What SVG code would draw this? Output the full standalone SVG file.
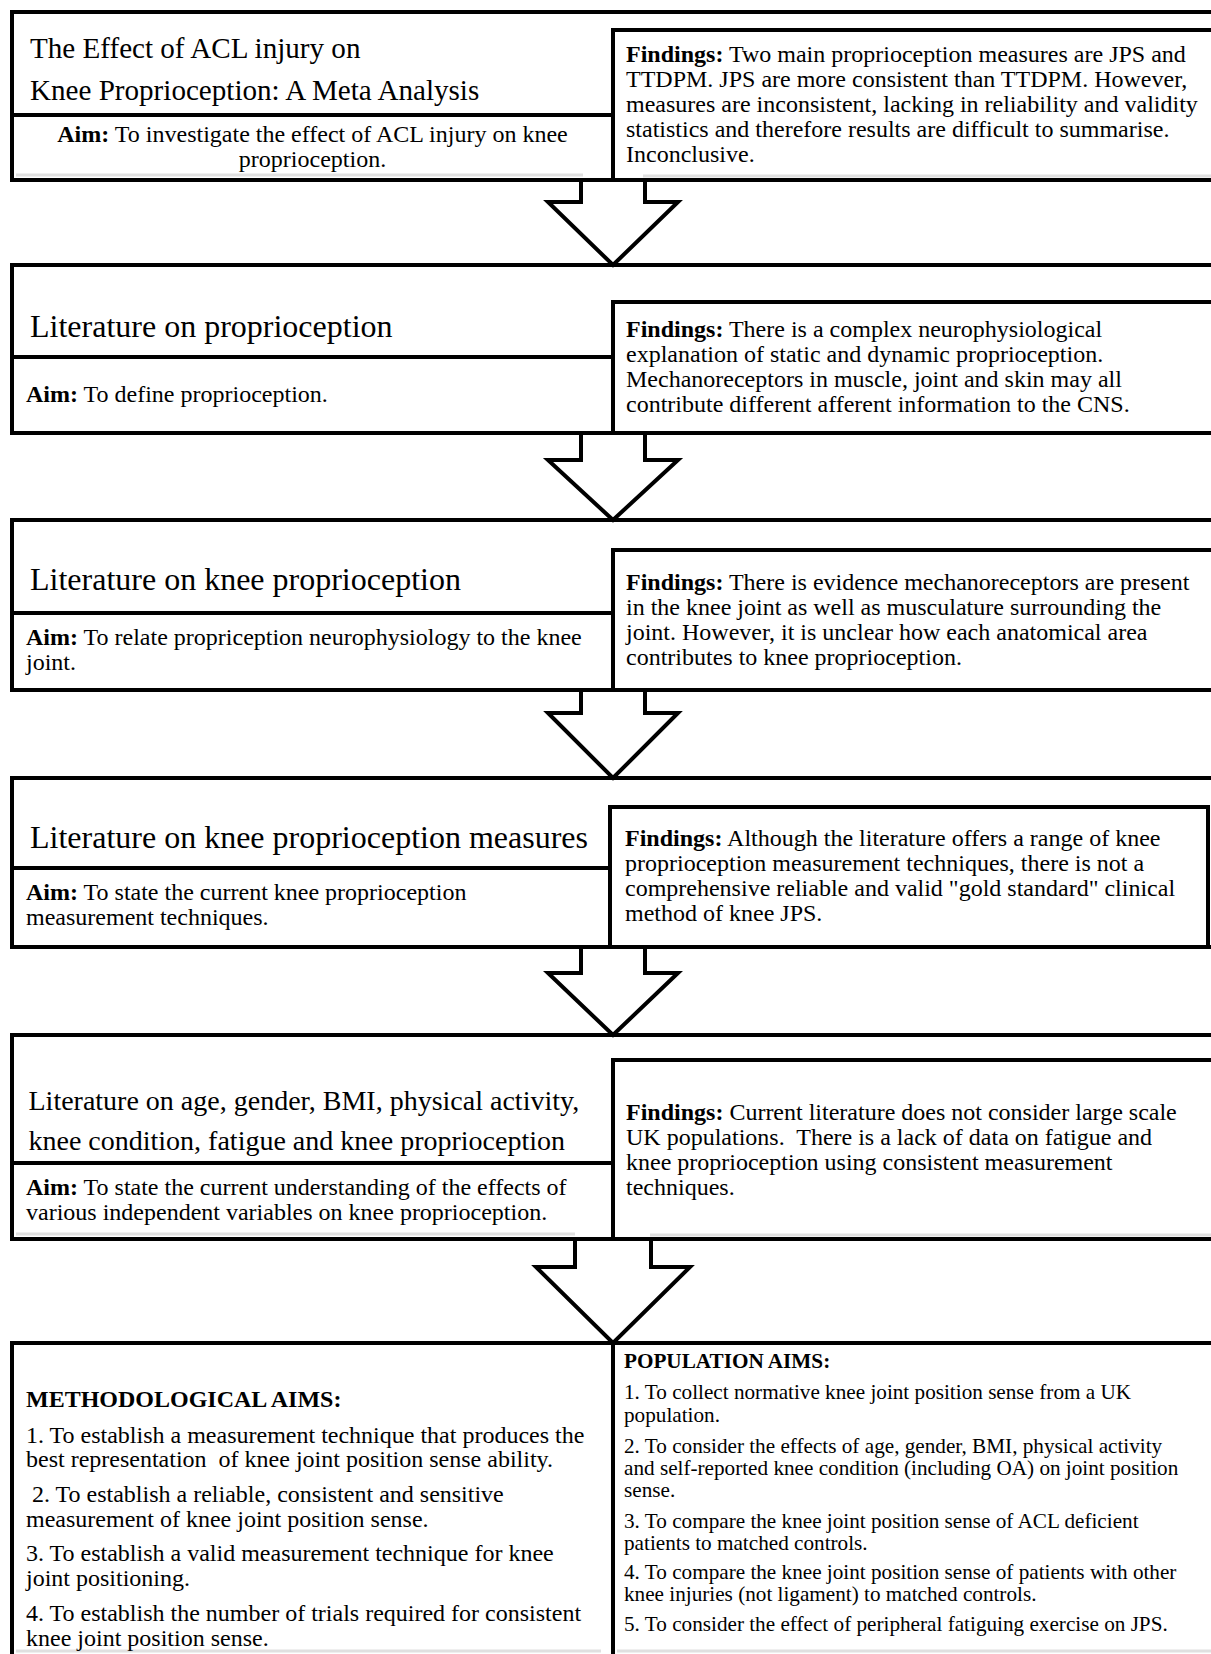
<svg xmlns="http://www.w3.org/2000/svg" width="1211" height="1654" viewBox="0 0 1211 1654">
<style>
.bx{fill:#fff;stroke:#000;stroke-width:4}
.ln{stroke:#000;stroke-width:4;fill:none}
.sh{stroke:#e0e0e0;stroke-width:3;fill:none}
.ar{fill:#fff;stroke:#000;stroke-width:4;stroke-linejoin:miter}
text{font-family:"Liberation Serif","Times New Roman",serif;fill:#000}
.t1{font-size:29.1px}
.t2{font-size:32px}
.t5{font-size:28px}
.bd{font-size:24px}
.pp{font-size:21.2px}
.b{font-weight:bold}
</style>
<rect x="0" y="0" width="1211" height="1654" fill="#fff"/>

<g id="stage1">
<rect class="bx" x="12" y="12" width="1208" height="168"/>
<line class="ln" x1="12" y1="115" x2="613" y2="115"/>
<line class="sh" x1="16" y1="175" x2="583" y2="175"/>
<text class="t1"><tspan x="30" y="58">The Effect of ACL injury on</tspan><tspan x="30" y="100">Knee Proprioception: A Meta Analysis</tspan></text>
<text class="bd" text-anchor="middle"><tspan x="312.5" y="142"><tspan class="b">Aim:</tspan> To investigate the effect of ACL injury on knee</tspan><tspan x="312.5" y="167">proprioception.</tspan></text>
</g>
<g id="stage1-findings">
<rect class="bx" x="613" y="30" width="607" height="150"/>
<line class="sh" x1="643" y1="176" x2="1211" y2="176"/>
<text class="bd"><tspan x="626" y="62"><tspan class="b">Findings:</tspan> Two main proprioception measures are JPS and</tspan><tspan x="626" y="87">TTDPM. JPS are more consistent than TTDPM. However,</tspan><tspan x="626" y="112">measures are inconsistent, lacking in reliability and validity</tspan><tspan x="626" y="137">statistics and therefore results are difficult to summarise.</tspan><tspan x="626" y="162">Inconclusive.</tspan></text>
</g>

<g id="stage2">
<rect class="bx" x="12" y="265" width="1208" height="168"/>
<line class="ln" x1="12" y1="357" x2="613" y2="357"/>
<text class="t2"><tspan x="30" y="337">Literature on proprioception</tspan></text>
<text class="bd"><tspan x="26" y="402"><tspan class="b">Aim:</tspan> To define proprioception.</tspan></text>
</g>
<g id="stage2-findings">
<rect class="bx" x="613" y="302" width="607" height="131"/>
<text class="bd"><tspan x="626" y="337"><tspan class="b">Findings:</tspan> There is a complex neurophysiological</tspan><tspan x="626" y="362">explanation of static and dynamic proprioception.</tspan><tspan x="626" y="387">Mechanoreceptors in muscle, joint and skin may all</tspan><tspan x="626" y="412">contribute different afferent information to the CNS.</tspan></text>
</g>

<g id="stage3">
<rect class="bx" x="12" y="520" width="1208" height="170"/>
<line class="ln" x1="12" y1="613" x2="613" y2="613"/>
<text class="t2"><tspan x="30" y="590">Literature on knee proprioception</tspan></text>
<text class="bd"><tspan x="26" y="645"><tspan class="b">Aim:</tspan> To relate propriception neurophysiology to the knee</tspan><tspan x="26" y="670">joint.</tspan></text>
</g>
<g id="stage3-findings">
<rect class="bx" x="613" y="550" width="607" height="140"/>
<text class="bd"><tspan x="626" y="590"><tspan class="b">Findings:</tspan> There is evidence mechanoreceptors are present</tspan><tspan x="626" y="615">in the knee joint as well as musculature surrounding the</tspan><tspan x="626" y="640">joint. However, it is unclear how each anatomical area</tspan><tspan x="626" y="665">contributes to knee proprioception.</tspan></text>
</g>

<g id="stage4">
<rect class="bx" x="12" y="778" width="1208" height="169"/>
<line class="ln" x1="12" y1="868" x2="610" y2="868"/>
<text class="t2"><tspan x="30" y="848">Literature on knee proprioception measures</tspan></text>
<text class="bd"><tspan x="26" y="900"><tspan class="b">Aim:</tspan> To state the current knee proprioception</tspan><tspan x="26" y="925">measurement techniques.</tspan></text>
</g>
<g id="stage4-findings">
<rect class="bx" x="610" y="807" width="598" height="140"/>
<text class="bd"><tspan x="625" y="846"><tspan class="b">Findings:</tspan> Although the literature offers a range of knee</tspan><tspan x="625" y="871">proprioception measurement techniques, there is not a</tspan><tspan x="625" y="896">comprehensive reliable and valid "gold standard" clinical</tspan><tspan x="625" y="921">method of knee JPS.</tspan></text>
</g>

<g id="stage5">
<rect class="bx" x="12" y="1035" width="1208" height="204"/>
<line class="ln" x1="12" y1="1163" x2="613" y2="1163"/>
<line class="sh" x1="16" y1="1234" x2="575" y2="1234"/>
<text class="t5"><tspan x="28.5" y="1110">Literature on age, gender, BMI, physical activity,</tspan><tspan x="28.5" y="1150">knee condition, fatigue and knee proprioception</tspan></text>
<text class="bd"><tspan x="26" y="1195"><tspan class="b">Aim:</tspan> To state the current understanding of the effects of</tspan><tspan x="26" y="1220">various independent variables on knee proprioception.</tspan></text>
</g>
<g id="stage5-findings">
<rect class="bx" x="613" y="1060" width="607" height="179"/>
<line class="sh" x1="650" y1="1235" x2="1211" y2="1235"/>
<text class="bd"><tspan x="626" y="1120"><tspan class="b">Findings:</tspan> Current literature does not consider large scale</tspan><tspan x="626" y="1145">UK populations.&#160; There is a lack of data on fatigue and</tspan><tspan x="626" y="1170">knee proprioception using consistent measurement</tspan><tspan x="626" y="1195">techniques.</tspan></text>
</g>

<g id="methodological-aims">
<rect class="bx" x="12" y="1343" width="601" height="330"/>
<line class="sh" x1="16" y1="1651" x2="601" y2="1651"/>
<text class="bd"><tspan class="b" x="26" y="1407">METHODOLOGICAL AIMS:</tspan><tspan x="26" y="1443">1. To establish a measurement technique that produces the</tspan><tspan x="26" y="1467">best representation&#160; of knee joint position sense ability.</tspan><tspan x="26" y="1502">&#160;2. To establish a reliable, consistent and sensitive</tspan><tspan x="26" y="1527">measurement of knee joint position sense.</tspan><tspan x="26" y="1561">3. To establish a valid measurement technique for knee</tspan><tspan x="26" y="1586">joint positioning.</tspan><tspan x="26" y="1621">4. To establish the number of trials required for consistent</tspan><tspan x="26" y="1646">knee joint position sense.</tspan></text>
</g>
<g id="population-aims">
<rect class="bx" x="613" y="1343" width="607" height="330"/>
<line class="sh" x1="617" y1="1651" x2="1211" y2="1651"/>
<text class="pp"><tspan class="b" x="624" y="1368">POPULATION AIMS:</tspan><tspan x="624" y="1399">1. To collect normative knee joint position sense from a UK</tspan><tspan x="624" y="1422">population.</tspan><tspan x="624" y="1453">2. To consider the effects of age, gender, BMI, physical activity</tspan><tspan x="624" y="1475">and self-reported knee condition (including OA) on joint position</tspan><tspan x="624" y="1497">sense.</tspan><tspan x="624" y="1528">3. To compare the knee joint position sense of ACL deficient</tspan><tspan x="624" y="1550">patients to matched controls.</tspan><tspan x="624" y="1579">4. To compare the knee joint position sense of patients with other</tspan><tspan x="624" y="1601">knee injuries (not ligament) to matched controls.</tspan><tspan x="624" y="1631">5. To consider the effect of peripheral fatiguing exercise on JPS.</tspan></text>
</g>

<g id="connectors">
<polygon class="ar" points="581,180 581,202 548,202 613,265 678,202 645,202 645,180"/>
<polygon class="ar" points="581,433 581,460 548,460 613,520 678,460 645,460 645,433"/>
<polygon class="ar" points="581,690 581,713 548,713 613,778 678,713 645,713 645,690"/>
<polygon class="ar" points="581,947 581,973 548,973 613,1035 678,973 645,973 645,947"/>
<polygon class="ar" points="575,1239 575,1267 536,1267 613,1343 690,1267 651,1267 651,1239"/>
</g>
</svg>
